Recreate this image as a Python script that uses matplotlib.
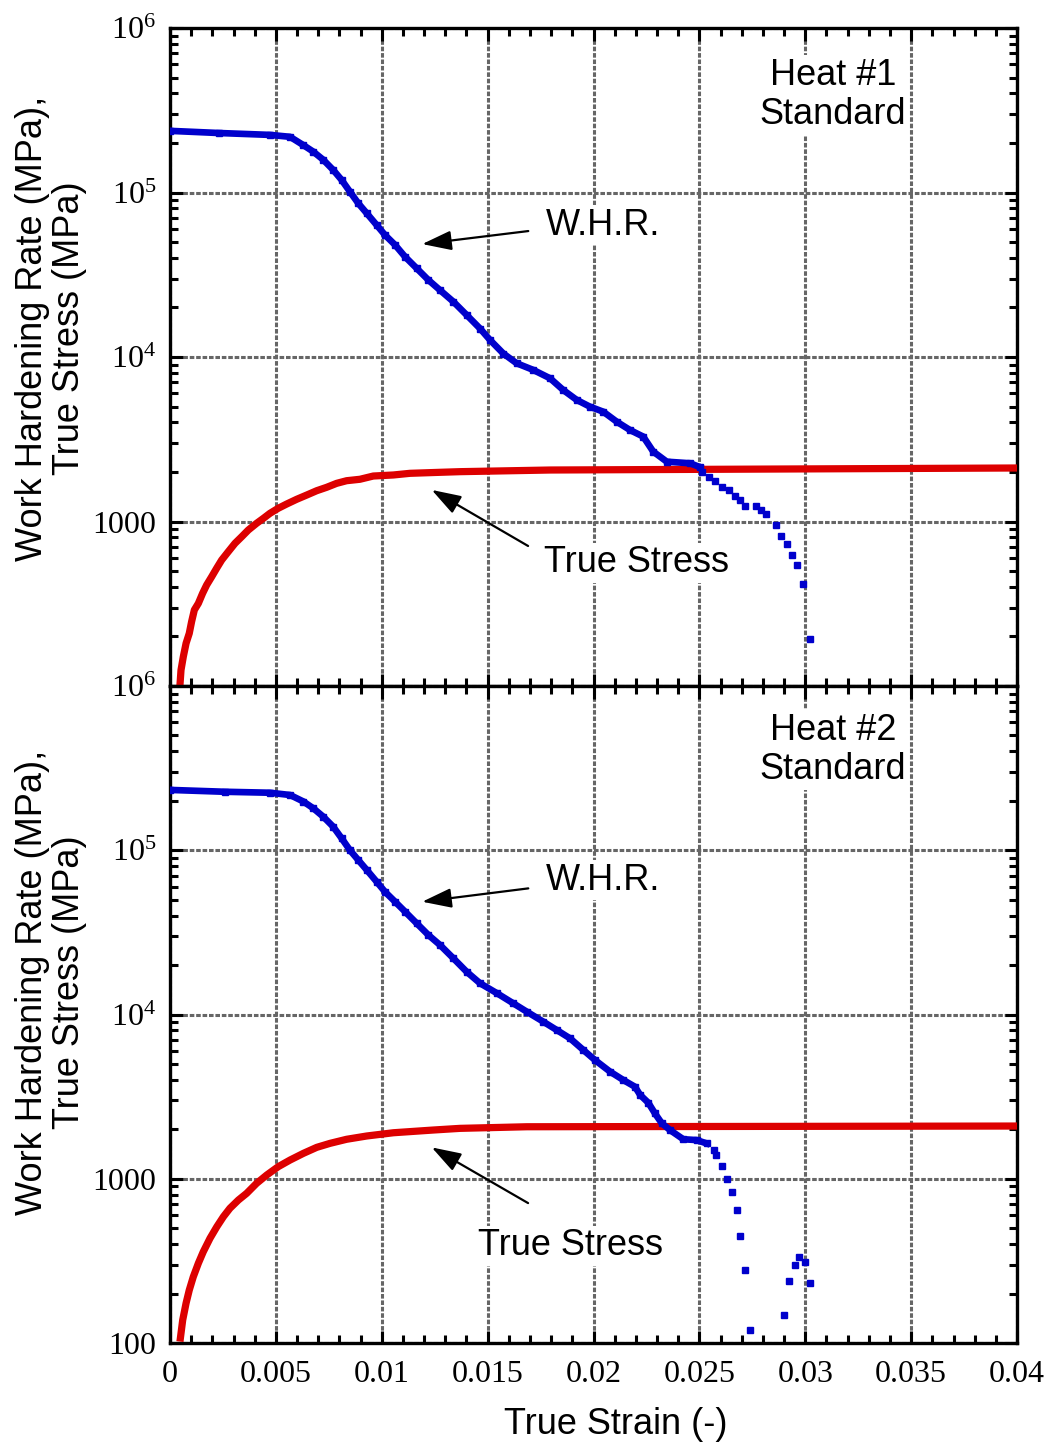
import numpy as np
import matplotlib
matplotlib.use('Agg')
import matplotlib.pyplot as plt
from matplotlib.ticker import MultipleLocator, LogLocator, NullFormatter

plt.rcParams['font.family'] = ['Liberation Sans', 'DejaVu Sans']
plt.rcParams['mathtext.fontset'] = 'custom'
plt.rcParams['mathtext.rm'] = 'Liberation Serif'
plt.rcParams['mathtext.it'] = 'Liberation Serif:italic'

# ---- Heat #1 ----
whr1_strain = [0.0, 0.0023, 0.00472, 0.00567, 0.0063, 0.00677, 0.00724, 0.00771, 0.00811,
               0.0085, 0.00889, 0.00929, 0.00976, 0.01015, 0.01063, 0.0111, 0.01165,
               0.0122, 0.01275, 0.01338, 0.01401, 0.01464, 0.01511, 0.01574, 0.01637,
               0.01716, 0.01795, 0.01857, 0.01921, 0.01983, 0.02046, 0.0211, 0.02172,
               0.02235, 0.02282, 0.02346, 0.02456, 0.02503]
whr1_rate = [2.37e5, 2.3e5, 2.24e5, 2.18e5, 1.94e5, 1.77e5, 1.58e5, 1.37e5, 1.19e5,
             1.01e5, 8.6e4, 7.48e4, 6.34e4, 5.52e4, 4.8e4, 4.07e4, 3.46e4,
             2.94e4, 2.55e4, 2.17e4, 1.8e4, 1.49e4, 1.27e4, 1.05e4, 9.16e3,
             8.34e3, 7.42e3, 6.3e3, 5.48e3, 4.99e3, 4.65e3, 4.04e3, 3.6e3,
             3.28e3, 2.66e3, 2.31e3, 2.26e3, 2140]
whr1_tail_strain = [0.02512, 0.02545, 0.02574, 0.02607, 0.0264, 0.02668, 0.02692, 0.02715,
                    0.02767, 0.02791, 0.02815, 0.02862, 0.02886, 0.02914, 0.02937,
                    0.02961, 0.02989, 0.03022]
whr1_tail_rate = [2000, 1866, 1763, 1622, 1553, 1429, 1352, 1243,
                  1243, 1175, 1111, 953, 817, 730, 626,
                  544, 417, 193]
ts1_strain = [0.00047, 0.00052, 0.00063, 0.00076, 0.00091, 0.00102, 0.00115, 0.00134,
              0.00154, 0.00173, 0.00197, 0.0022, 0.00244, 0.00275, 0.00307, 0.00339,
              0.0037, 0.00409, 0.00441, 0.00472, 0.00511, 0.00551, 0.00598, 0.00646,
              0.00693, 0.0074, 0.00787, 0.00834, 0.00897, 0.0096, 0.01055, 0.01133,
              0.01275, 0.0137, 0.01795, 0.04]
ts1_stress = [101, 125, 151, 182, 209, 246, 290, 318,
              366, 411, 462, 519, 583, 655, 737, 809,
              888, 975, 1045, 1121, 1203, 1277, 1364, 1449,
              1539, 1614, 1706, 1770, 1806, 1890, 1918, 1963,
              1991, 2009, 2056, 2115]

# ---- Heat #2 ----
whr2_strain = [0.0, 0.0026, 0.00472, 0.00567, 0.0063, 0.00677, 0.00724, 0.00771, 0.00811,
               0.0085, 0.00889, 0.00929, 0.00976, 0.01015, 0.01063, 0.0111, 0.01165,
               0.0122, 0.01275, 0.01338, 0.01401, 0.01464, 0.01543, 0.01621, 0.01685,
               0.01763, 0.01826, 0.01889, 0.01952, 0.02007, 0.02078, 0.02141, 0.02196,
               0.0222, 0.02259, 0.0229, 0.02322, 0.02361, 0.02424, 0.02487, 0.02535]
whr2_rate = [2.33e5, 2.27e5, 2.24e5, 2.17e5, 1.98e5, 1.8e5, 1.6e5, 1.39e5, 1.18e5,
             1.0e5, 8.72e4, 7.59e4, 6.43e4, 5.59e4, 4.86e4, 4.23e4, 3.59e4,
             3.05e4, 2.65e4, 2.2e4, 1.82e4, 1.55e4, 1.35e4, 1.17e4, 1.04e4,
             9.04e3, 8.05e3, 7.16e3, 6.08e3, 5.28e3, 4.49e3, 3.99e3, 3.63e3,
             3.24e3, 2.9e3, 2.5e3, 2.18e3, 1.98e3, 1.74e3, 1.72e3, 1.64e3]
whr2_tail_strain = [0.02569, 0.02577, 0.02605, 0.02629, 0.02653, 0.02676, 0.02692, 0.02715,
                    0.02739, 0.029, 0.02925, 0.02952, 0.02972, 0.02999, 0.03022]
whr2_tail_rate = [1500, 1400, 1200, 995, 834, 645, 450, 278,
                  120, 148, 239, 298, 335, 313, 233]
ts2_strain = [0.00047, 0.0006, 0.00076, 0.00091, 0.0011, 0.00134, 0.00157, 0.00189,
              0.00221, 0.00252, 0.00283, 0.00323, 0.00362, 0.00409, 0.00457, 0.00511,
              0.00567, 0.0063, 0.00693, 0.00756, 0.00834, 0.00929, 0.01055, 0.01243,
              0.0137, 0.01685, 0.04]
ts2_stress = [102, 138, 175, 210, 253, 306, 359, 434,
              510, 587, 661, 742, 815, 938, 1054, 1184,
              1300, 1428, 1553, 1643, 1739, 1821, 1906, 1980,
              2027, 2073, 2094]

xticks = [0, 0.005, 0.01, 0.015, 0.02, 0.025, 0.03, 0.035, 0.04]
xtick_labels = ['0', '0.005', '0.01', '0.015', '0.02', '0.025', '0.03', '0.035', '0.04']
yticks = [100, 1000, 1e4, 1e5, 1e6]
ytick_labels = ['100', '1000', r'$\mathdefault{10^{4}}$', r'$\mathdefault{10^{5}}$',
                r'$\mathdefault{10^{6}}$']

BLUE = '#0000cc'
RED = '#dd0000'

fig = plt.figure(figsize=(10.5, 14.48), dpi=100)
ax1 = fig.add_axes([0.1619, 0.52624, 0.8067, 0.45442])
ax2 = fig.add_axes([0.1619, 0.07251, 0.8067, 0.45373])


def style(ax, ylabels, xlabels):
    ax.set_yscale('log')
    ax.set_xlim(0, 0.04)
    ax.set_ylim(100, 1e6)
    ax.set_xticks(xticks, xlabels)
    ax.xaxis.set_minor_locator(MultipleLocator(0.001))
    ax.set_yticks(yticks, ylabels)
    ax.yaxis.set_minor_locator(LogLocator(base=10, subs=np.arange(2, 10)))
    ax.yaxis.set_minor_formatter(NullFormatter())
    ax.grid(True, which='major', color='#666666', linestyle=(0, (1.5, 0.6)), linewidth=2.2)
    ax.tick_params(which='both', direction='in', top=True, right=True, width=2.2,
                   labelsize=23, labelfontfamily='Liberation Serif')
    ax.tick_params(which='major', length=9)
    ax.tick_params(which='minor', length=6)
    ax.tick_params(axis='x', pad=12)
    ax.tick_params(axis='y', pad=10)
    for s in ax.spines.values():
        s.set_linewidth(2.4)


def panel(ax, ws, wr, wts, wtr, ss, sv):
    ax.plot(ss, sv, color=RED, lw=5.2, solid_capstyle='butt', zorder=3)
    ax.plot(ws, wr, color=BLUE, lw=4.8, marker='s', ms=5, zorder=4)
    ax.plot(wts, wtr, color=BLUE, ls='none', marker='s', ms=5, zorder=4)


arrow = dict(arrowstyle='-|>,head_length=0.9,head_width=0.3', color='black', lw=1.6,
             shrinkA=0, shrinkB=0, mutation_scale=20)
box = dict(facecolor='white', edgecolor='none', pad=2)

# top panel
panel(ax1, whr1_strain, whr1_rate, whr1_tail_strain, whr1_tail_rate, ts1_strain, ts1_stress)
style(ax1, [''] + ytick_labels[1:], [''] * len(xticks))
ax1.annotate('', xy=(0.01191, 4.86e4), xytext=(0.01692, 5.83e4), arrowprops=arrow)
ax1.text(0.01775, 6.34e4, 'W.H.R.', fontsize=26, ha='left', va='center', bbox=box, zorder=5)
ax1.annotate('', xy=(0.01236, 1556), xytext=(0.01691, 710), arrowprops=arrow)
ax1.text(0.02203, 560, 'True Stress', fontsize=26, ha='center', va='center', bbox=box, zorder=5)
ax1.text(0.03131, 3.92e5, 'Heat #1\nStandard', fontsize=26, ha='center', va='center',
         multialignment='center', linespacing=1.15, bbox=box, zorder=5)

# bottom panel
panel(ax2, whr2_strain, whr2_rate, whr2_tail_strain, whr2_tail_rate, ts2_strain, ts2_stress)
style(ax2, ytick_labels, xtick_labels)
ax2.annotate('', xy=(0.01191, 4.86e4), xytext=(0.01692, 5.86e4), arrowprops=arrow)
ax2.text(0.01775, 6.59e4, 'W.H.R.', fontsize=26, ha='left', va='center', bbox=box, zorder=5)
ax2.annotate('', xy=(0.01236, 1552), xytext=(0.01691, 711), arrowprops=arrow)
ax2.text(0.01891, 390, 'True Stress', fontsize=26, ha='center', va='center', bbox=box, zorder=5)
ax2.text(0.03131, 4.07e5, 'Heat #2\nStandard', fontsize=26, ha='center', va='center',
         multialignment='center', linespacing=1.15, bbox=box, zorder=5)

ylab = 'Work Hardening Rate (MPa),\nTrue Stress (MPa)'
fig.text(51 / 1050, 1 - 328 / 1448, ylab, fontsize=26, rotation=90, ha='center',
         va='center', multialignment='center', linespacing=1.08)
fig.text(51 / 1050, 1 - 982 / 1448, ylab, fontsize=26, rotation=90, ha='center',
         va='center', multialignment='center', linespacing=1.08)
fig.text(616 / 1050, 1 - 1425 / 1448, 'True Strain (-)', fontsize=26, ha='center', va='center')

fig.savefig('out.png', dpi=100)
